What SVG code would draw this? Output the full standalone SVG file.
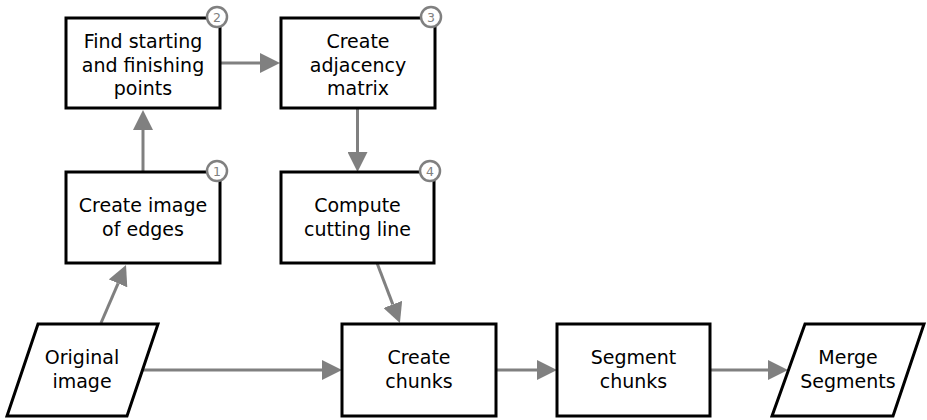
<svg xmlns="http://www.w3.org/2000/svg" width="927" height="420" viewBox="0 0 927 420">
  <style>
    .box { fill: #ffffff; stroke: #000000; stroke-width: 3; }
    .lbl { font-family: "DejaVu Sans", "Liberation Sans", sans-serif; font-size: 19px; fill: #000000; text-anchor: middle; }
    .badge circle { fill: #ffffff; stroke: #808080; stroke-width: 2.5; }
    .badge text { font-family: "DejaVu Sans", sans-serif; font-size: 12.5px; fill: #808080; text-anchor: middle; }
    .edge { fill: none; stroke: #808080; stroke-width: 3; marker-end: url(#arrow); }
  </style>
  <defs>
    <marker id="arrow" markerUnits="userSpaceOnUse" markerWidth="20" markerHeight="20" refX="0" refY="10" orient="auto">
      <path d="M0,0 L20,10 L0,20 Z" fill="#808080"/>
    </marker>
  </defs>

  <g id="connectors">
    <line class="edge" x1="101" y1="323" x2="118.1" y2="283.4"/>
    <line class="edge" x1="143" y1="171" x2="143" y2="130"/>
    <line class="edge" x1="221" y1="63" x2="260" y2="63"/>
    <line class="edge" x1="357.5" y1="108" x2="357.5" y2="152"/>
    <line class="edge" x1="377" y1="263" x2="392.8" y2="304.4"/>
    <line class="edge" x1="143" y1="370" x2="322" y2="370"/>
    <line class="edge" x1="496" y1="370" x2="537" y2="370"/>
    <line class="edge" x1="710" y1="370" x2="768" y2="370"/>
  </g>

  <g id="original-image">
    <polygon class="box" points="38,324 158,324 127,416 7,416"/>
    <text class="lbl" x="82" y="364">Original</text>
    <text class="lbl" x="82" y="388">image</text>
  </g>

  <g id="create-image-of-edges">
    <rect class="box" x="66" y="172" width="154" height="91"/>
    <text class="lbl" x="143" y="212">Create image</text>
    <text class="lbl" x="143" y="236">of edges</text>
    <g class="badge"><circle cx="217" cy="171" r="10"/><text x="217" y="175.5">1</text></g>
  </g>

  <g id="find-points">
    <rect class="box" x="66" y="18" width="154" height="90"/>
    <text class="lbl" x="143" y="48">Find starting</text>
    <text class="lbl" x="143" y="72">and finishing</text>
    <text class="lbl" x="143" y="95">points</text>
    <g class="badge"><circle cx="217" cy="17" r="10"/><text x="217" y="21.5">2</text></g>
  </g>

  <g id="adjacency-matrix">
    <rect class="box" x="281" y="18" width="154" height="90"/>
    <text class="lbl" x="358" y="48">Create</text>
    <text class="lbl" x="358" y="72">adjacency</text>
    <text class="lbl" x="358" y="95">matrix</text>
    <g class="badge"><circle cx="431" cy="17" r="10"/><text x="431" y="21.5">3</text></g>
  </g>

  <g id="cutting-line">
    <rect class="box" x="281" y="172" width="153" height="91"/>
    <text class="lbl" x="357.5" y="212">Compute</text>
    <text class="lbl" x="357.5" y="236">cutting line</text>
    <g class="badge"><circle cx="430" cy="171" r="10"/><text x="430" y="175.5">4</text></g>
  </g>

  <g id="create-chunks">
    <rect class="box" x="342" y="324" width="154" height="92"/>
    <text class="lbl" x="419" y="364">Create</text>
    <text class="lbl" x="419" y="388">chunks</text>
  </g>

  <g id="segment-chunks">
    <rect class="box" x="557" y="324" width="153" height="92"/>
    <text class="lbl" x="633.5" y="364">Segment</text>
    <text class="lbl" x="633.5" y="388">chunks</text>
  </g>

  <g id="merge-segments">
    <polygon class="box" points="805,324 924,324 893,416 772,416"/>
    <text class="lbl" x="848" y="364">Merge</text>
    <text class="lbl" x="848" y="388">Segments</text>
  </g>
</svg>
